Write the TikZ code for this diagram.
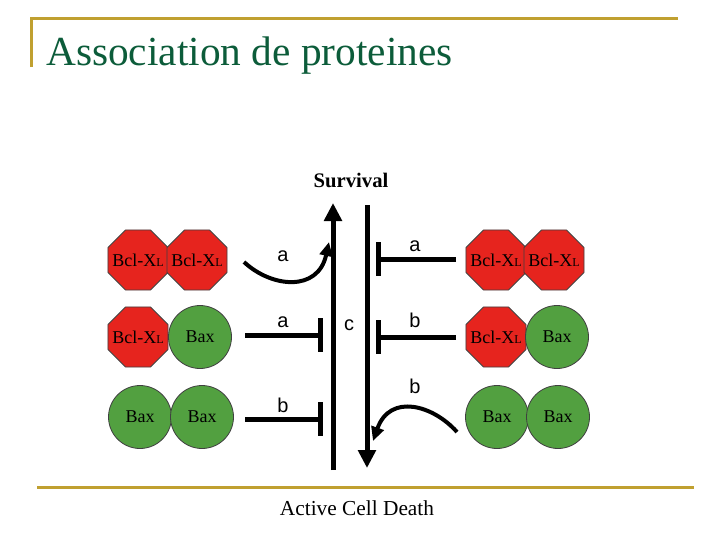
\documentclass[tikz,border=0pt]{standalone}
\usepackage{fontspec}
\setmainfont{Liberation Serif}
\newfontfamily\lblfont{Liberation Sans}
\usetikzlibrary{shapes.geometric,arrows.meta}
\definecolor{gold}{RGB}{192,160,48}
\definecolor{titlegreen}{RGB}{12,92,58}
\definecolor{protred}{RGB}{230,36,30}
\definecolor{protgreen}{RGB}{82,160,64}
\newcommand{\bcl}{\makebox[0pt]{Bcl-X{\fontsize{9}{9}\selectfont L}}}
\tikzset{
  octa/.style={regular polygon, regular polygon sides=8, minimum size=48.75pt, inner sep=0pt,
    fill=protred, draw=black!75, line width=0.6pt, font=\fontsize{13.5}{14}\selectfont},
  roundprot/.style={circle, minimum size=47.25pt, inner sep=0pt,
    fill=protgreen, draw=black!75, line width=0.6pt, font=\fontsize{13.5}{14}\selectfont},
  thickline/.style={line width=3.75pt},
  bigarrow/.style={thickline, -{Triangle[width=13pt,length=13.5pt]}},
  curvearrow/.style={line width=3pt, -{Triangle[width=9.5pt,length=10.5pt]}},
  inhib/.style={thickline, -{Bar[width=25pt]}},
  lbl/.style={font=\lblfont\fontsize{15}{16}\selectfont, inner sep=0pt},
  goldline/.style={draw=gold, line width=2.25pt}
}
\begin{document}
\begin{tikzpicture}[x=0.75pt,y=-0.75pt]
\useasboundingbox (0,0) rectangle (720,540);
% frame lines
\coordinate (tl) at (31,18);
\coordinate (tr) at (678,18);
\coordinate (tb) at (31,67);
\coordinate (bl) at (37,487);
\coordinate (br) at (694,487);
\draw[goldline] (tb) -- (tl) -- (tr);
\draw[goldline] (bl) -- (br);
% title
\node[anchor=base west, inner sep=0pt, text=titlegreen, font=\fontsize{31}{32}\selectfont] (title) at (46,65) {Association de proteines};
% texts
\node[font=\bfseries\fontsize{15.5}{16}\selectfont] (survival) at (351,180) {Survival};
\node[font=\fontsize{16}{17}\selectfont] (death) at (357,508) {Active Cell Death};
% left proteins
\node[octa] (L1a) at (138,260) {\bcl};
\node[octa] (L1b) at (197,260) {\bcl};
\node[octa] (L2a) at (138,337) {\bcl};
\node[roundprot] (L2b) at (200,337) {Bax};
\node[roundprot] (L3a) at (140,417) {Bax};
\node[roundprot] (L3b) at (202,417) {Bax};
% right proteins
\node[octa] (R1a) at (496,260) {\bcl};
\node[octa] (R1b) at (554,260) {\bcl};
\node[octa] (R2a) at (496,337) {\bcl};
\node[roundprot] (R2b) at (557,337) {Bax};
\node[roundprot] (R3a) at (497,417) {Bax};
\node[roundprot] (R3b) at (558,417) {Bax};
% main vertical arrows
\coordinate (upS) at (333,470);
\coordinate (upE) at (333,203);
\coordinate (dnS) at (367,205);
\coordinate (dnE) at (367,468);
\draw[bigarrow] (upS) -- (upE);
\draw[bigarrow] (dnS) -- (dnE);
% left connectors
\coordinate (la1s) at (244,262);
\coordinate (la1e) at (329,242);
\draw[curvearrow] (la1s) .. controls (272,288) and (318,292) .. (la1e);
\coordinate (la2s) at (245,335);
\coordinate (la2e) at (323,335);
\draw[inhib] (la2s) -- (la2e);
\coordinate (lb3s) at (245,419);
\coordinate (lb3e) at (323,419);
\draw[inhib] (lb3s) -- (lb3e);
% right connectors
\coordinate (ra1s) at (456,259);
\coordinate (ra1e) at (376,259);
\draw[inhib] (ra1s) -- (ra1e);
\coordinate (rb2s) at (456,337);
\coordinate (rb2e) at (376,337);
\draw[inhib] (rb2s) -- (rb2e);
\coordinate (rb3s) at (457,432);
\coordinate (rb3e) at (373,441);
\draw[curvearrow] (rb3s) .. controls (433,405) and (390,393) .. (rb3e);
% labels
\node[lbl] (tla) at (283,256) {a};
\node[lbl] (tlb) at (283,322) {a};
\node[lbl] (tlc) at (283,405) {b};
\node[lbl] (tc) at (349,325) {c};
\node[lbl] (tra) at (415,246) {a};
\node[lbl] (trb) at (415,320) {b};
\node[lbl] (trc) at (415,386) {b};
\end{tikzpicture}
\end{document}
